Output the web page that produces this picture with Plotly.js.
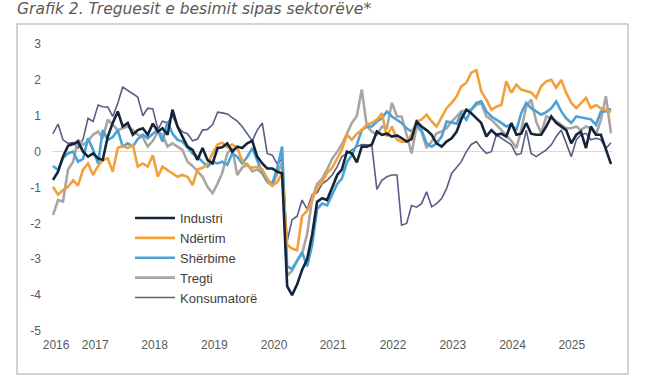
<!DOCTYPE html>
<html>
<head>
<meta charset="utf-8">
<script src="https://cdn.plot.ly/plotly-3.0.1.min.js"></script>
<style>
html,body{margin:0;padding:0;background:#fff;}
#chart{width:653px;height:380px;}
</style>
</head>
<body>
<div id="chart"></div>
<script>
// Monthly observations, May 2016 – Sep 2025
const startYear = 2016, startMonth = 5, nMonths = 113;
const months = [];
for (let i = 0; i < nMonths; i++) {
  const m = startMonth - 1 + i;
  const y = startYear + Math.floor(m / 12);
  const mm = (m % 12) + 1;
  months.push(y + '-' + (mm < 10 ? '0' + mm : mm) + '-01');
}

const seriesNames = ['Industri', 'Ndërtim', 'Shërbime', 'Tregti', 'Konsumatorë'];

const industri = [
 -0.79,-0.56,-0.14,0.16,0.21,0.28,0.00,-0.14,-0.05,-0.19,-0.23,0.42,0.80,1.12,0.70,0.80,0.47,0.60,0.65,0.47,
 0.78,0.56,0.65,0.47,1.17,0.70,0.42,0.14,0.05,-0.23,0.10,-0.23,-0.33,0.10,0.12,0.23,0.00,0.14,0.10,0.23,
 0.30,-0.14,-0.33,-0.47,-0.47,-0.56,-0.60,-3.75,-4.00,-3.70,-3.30,-3.00,-2.30,-1.40,-1.30,-1.35,-1.00,-0.65,-0.50,0.00,
 -0.05,-0.30,0.14,0.14,0.20,0.56,0.47,0.50,0.42,0.45,0.38,0.28,0.35,0.84,0.70,0.60,0.47,0.23,0.14,0.28,
 0.37,0.56,0.90,1.17,1.07,0.93,0.80,0.42,0.60,0.47,0.50,0.42,0.80,0.47,0.50,0.80,0.50,0.47,0.47,0.70,
 0.98,0.80,0.70,0.60,0.23,0.47,0.56,0.10,0.70,0.47,0.47,0.05,-0.35
];
const ndertim = [
 -0.98,-1.20,-1.07,-0.98,-0.80,-0.95,-0.50,-0.33,-0.65,-0.40,-0.23,-0.19,-0.56,0.10,0.16,0.10,0.19,-0.42,-0.33,-0.42,
 -0.10,-0.70,-0.42,-0.51,-0.60,-0.70,-0.65,-0.70,-0.93,-0.50,-0.45,-0.35,-0.05,0.20,0.25,0.12,0.20,0.10,-0.25,-0.40,
 -0.45,-0.42,-0.50,-0.75,-0.95,-0.85,-0.60,-2.60,-2.70,-2.75,-1.80,-1.65,-1.35,-1.00,-0.85,-0.60,-0.45,-0.20,0.05,0.47,
 0.33,0.50,0.60,0.75,0.80,0.89,1.07,0.42,0.70,0.33,0.28,0.28,0.47,0.84,0.89,1.03,0.84,0.70,0.98,1.21,
 1.36,1.54,1.82,1.92,2.20,2.27,1.68,1.45,1.17,1.25,1.30,1.96,1.64,1.87,1.73,1.68,1.65,1.50,1.82,1.96,
 2.00,1.78,2.00,1.64,1.36,1.21,1.36,1.50,1.21,1.30,1.21,1.17,1.10
];
const sherbime = [
 -0.40,-0.51,-0.19,-0.05,0.00,-0.28,-0.20,0.37,0.05,-0.33,0.60,0.33,0.40,0.60,0.14,0.23,0.14,0.35,0.47,0.37,
 0.50,0.60,0.28,0.84,0.50,0.33,0.28,0.10,-0.05,-0.14,-0.28,-0.42,-0.28,-0.33,-0.28,-0.37,-0.05,-0.14,-0.33,-0.15,
 0.10,-0.25,-0.60,-0.80,-0.89,-0.45,0.14,-3.20,-3.27,-3.04,-2.80,-3.20,-2.60,-1.60,-1.45,-1.50,-1.20,-0.90,-0.75,-0.30,
 -0.10,0.20,0.60,0.70,0.70,0.84,0.93,1.12,0.98,0.89,0.80,0.65,0.56,0.75,0.60,0.23,0.14,0.23,0.42,0.84,
 0.80,0.78,1.07,0.89,1.17,1.36,1.40,1.12,0.98,0.90,0.80,0.70,0.75,0.60,1.07,1.36,1.21,1.12,1.03,1.10,
 1.21,1.40,1.12,0.93,0.80,0.98,0.95,0.93,0.90,0.75,1.12,1.12,1.19
];
const tregti = [
 -1.77,-1.35,-1.39,-0.50,-0.28,0.33,0.19,0.30,0.47,0.56,0.37,0.89,0.75,0.60,0.65,0.70,0.60,0.47,0.40,0.14,
 0.30,0.56,0.47,0.14,0.23,0.15,0.05,-0.28,-0.40,-0.55,-0.70,-0.98,-1.16,-0.89,-0.60,-0.05,0.10,-0.65,-0.45,-0.35,
 -0.55,-0.50,-0.60,-0.85,-0.95,-0.60,-0.30,-3.46,-3.32,-3.04,-2.85,-2.30,-1.30,-0.90,-0.75,-0.50,-0.20,0.00,0.20,0.50,
 0.80,1.00,1.73,0.70,0.56,0.47,0.70,0.65,1.36,0.98,0.98,0.47,-0.05,0.70,0.56,0.10,0.28,0.51,0.56,0.65,
 0.84,0.98,1.12,1.15,1.17,1.30,1.36,0.98,0.89,0.75,0.60,0.47,0.30,0.10,0.60,1.26,1.45,0.84,0.51,0.98,
 0.93,0.85,0.75,0.65,0.65,0.70,0.60,0.70,0.65,0.47,0.89,1.54,0.51
];
const konsumatore = [
 0.50,0.77,0.33,0.23,0.25,0.10,0.35,0.93,0.84,1.30,1.25,1.24,0.98,1.35,1.80,1.70,1.62,1.52,1.00,1.21,
 1.19,0.62,0.85,0.80,1.00,0.70,0.55,0.50,0.30,0.35,0.60,0.62,0.75,1.10,1.08,1.05,0.95,0.85,0.70,0.50,
 0.30,0.60,0.80,-0.05,-0.10,-0.35,-0.20,-2.50,-1.90,-1.80,-1.35,-1.60,-1.20,-1.15,-0.90,-0.80,-0.65,-0.42,-0.14,-0.05,
 0.05,0.14,0.20,0.19,0.15,-1.05,-0.80,-0.70,-0.65,-0.65,-2.05,-2.00,-1.50,-1.55,-1.45,-1.12,-1.54,-1.45,-1.31,-1.03,
 -0.61,-0.42,-0.28,0.00,0.20,0.28,0.10,-0.05,0.00,0.47,0.37,0.28,0.19,-0.09,-0.05,0.60,-0.05,-0.14,-0.05,0.05,
 0.19,0.42,0.60,0.23,-0.14,0.33,0.47,0.51,0.33,0.37,0.33,0.09,0.25
];

const yTickVals = [-5,-4,-3,-2,-1,0,1,2,3];
const yTickText = ['-5','-4','-3','-2','-1','0','1','2','3'];
const xTickVals = ['2016-05-20','2017-01-14','2018-01-12','2019-01-12','2020-01-12','2021-01-06','2022-01-08','2023-01-08','2024-01-08','2025-01-04'];
const xTickText = ['2016','2017','2018','2019','2020','2021','2022','2023','2024','2025'];

const colors = ['#14243a', '#f4a03a', '#4aa3d4', '#aaa5a3', '#5b5c86'];
const widths = [2.6, 2.6, 2.6, 2.6, 1.6];
const values = [industri, ndertim, sherbime, tregti, konsumatore];

const drawOrder = [4, 3, 2, 1, 0];
const traces = drawOrder.map(k => ({
  type: 'scatter', mode: 'lines',
  x: months, y: values[k], name: seriesNames[k],
  line: {color: colors[k], width: widths[k]},
  legendrank: k + 1,
  hoverinfo: 'skip'
}));

const L = 52, R = 41, T = 44, B = 49;
const W = 653 - L - R, H = 380 - T - B;
const px = v => (v - L) / W;
const py = v => (380 - B - v) / H;

const layout = {
  width: 653, height: 380,
  margin: {l: L, r: R, t: T, b: B, pad: 0},
  paper_bgcolor: '#ffffff', plot_bgcolor: '#ffffff',
  font: {family: 'Liberation Sans, Arial, sans-serif', size: 12, color: '#595959'},
  title: {
    text: '<i>Grafik 2. Treguesit e besimit sipas sektorëve*</i>',
    font: {family: 'DejaVu Sans, sans-serif', size: 15.5, color: '#5a5a5a', style: 'italic'},
    x: 17 / 653, xanchor: 'left', xref: 'container',
    y: 1 - 9 / 380, yanchor: 'middle', yref: 'container'
  },
  xaxis: {
    type: 'date',
    range: ['2016-04-25', '2025-09-07'],
    tickmode: 'array', tickvals: xTickVals, ticktext: xTickText,
    showgrid: false, zeroline: false, showline: false, ticks: '',
    tickfont: {size: 12, color: '#595959'},
    ticklabelstandoff: 5
  },
  yaxis: {
    range: [-5, 3],
    tickmode: 'array', tickvals: yTickVals, ticktext: yTickText,
    showgrid: false, zeroline: true, zerolinecolor: '#d9d9d9', zerolinewidth: 1,
    showline: false, ticks: '',
    tickfont: {size: 12, color: '#595959'},
    ticklabelstandoff: 10
  },
  showlegend: true,
  legend: {
    x: px(130), y: py(203), xanchor: 'left', yanchor: 'top',
    bgcolor: 'rgba(0,0,0,0)', borderwidth: 0,
    font: {size: 13, color: '#404040'},
    traceorder: 'normal', itemwidth: 40
  },
  shapes: [{
    type: 'rect', xref: 'paper', yref: 'paper',
    x0: px(17), x1: px(628), y0: py(374), y1: py(24),
    line: {color: '#c4c4c4', width: 1.5}, fillcolor: 'rgba(0,0,0,0)', layer: 'below'
  }]
};

Plotly.newPlot('chart', traces, layout, {staticPlot: true, displayModeBar: false});
</script>
</body>
</html>
